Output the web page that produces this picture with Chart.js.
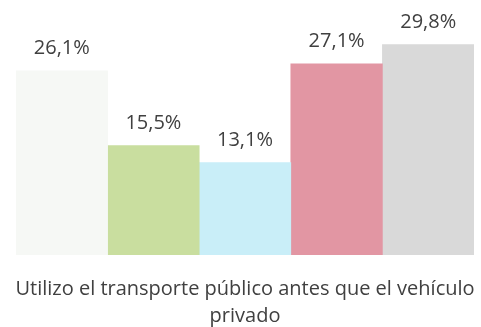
<!DOCTYPE html>
<html>
<head>
<meta charset="utf-8">
<script src="https://cdn.jsdelivr.net/npm/chart.js@4/dist/chart.umd.min.js"></script>
<style>
  html, body { margin: 0; padding: 0; background: #ffffff; }
  #wrap { width: 481px; height: 327px; }
</style>
</head>
<body>
<div id="wrap"><canvas id="chart" width="481" height="327"></canvas></div>
<script>
// Single question, five response groups drawn side by side
const categoryLines = ["Utilizo el transporte público antes que el vehículo", "privado"];
const seriesValues = [26.1, 15.5, 13.1, 27.1, 29.8];
const seriesColors = ["#f6f8f5", "#c9de9f", "#c9eef8", "#e296a3", "#d9d9d9"];
const seriesNames = ["Grupo 1", "Grupo 2", "Grupo 3", "Grupo 4", "Grupo 5"];

const fontFamily = "'Open Sans', 'Noto Sans', sans-serif";
const textColor = "#404040";

function formatPct(v) {
  return v.toFixed(1).replace(".", ",") + "%";
}

// Writes each bar's value above it
const valueLabels = {
  id: "valueLabels",
  afterDatasetsDraw(chart) {
    const ctx = chart.ctx;
    ctx.save();
    ctx.font = "20px " + fontFamily;
    ctx.fillStyle = textColor;
    ctx.textAlign = "center";
    ctx.textBaseline = "alphabetic";
    chart.data.datasets.forEach((ds, i) => {
      const meta = chart.getDatasetMeta(i);
      meta.data.forEach((bar, j) => {
        ctx.fillText(formatPct(ds.data[j]), bar.x, bar.y - 17);
      });
    });
    ctx.restore();
  }
};

const datasets = seriesValues.map((v, i) => ({
  label: seriesNames[i],
  data: [v],
  backgroundColor: seriesColors[i],
  borderWidth: 0,
  categoryPercentage: 1,
  barPercentage: 1
}));

new Chart(document.getElementById("chart"), {
  type: "bar",
  data: { labels: [categoryLines], datasets },
  options: {
    responsive: false,
    animation: false,
    layout: { padding: { left: 16, right: 7, top: 8, bottom: 0 } },
    plugins: { legend: { display: false }, tooltip: { enabled: false } },
    scales: {
      x: {
        grid: { display: false, drawTicks: false },
        border: { display: false },
        ticks: {
          color: textColor,
          font: { family: fontFamily, size: 20, lineHeight: 1.35 },
          padding: 21,
          maxRotation: 0
        },
        // the wrapped label is wider than the plot; keep the plot full width
        afterFit(scale) {
          scale.height = 72;
          scale.paddingLeft = 0;
          scale.paddingRight = 0;
        }
      },
      y: {
        display: false,
        min: 0,
        max: 35
      }
    }
  },
  plugins: [valueLabels]
});
</script>
</body>
</html>
